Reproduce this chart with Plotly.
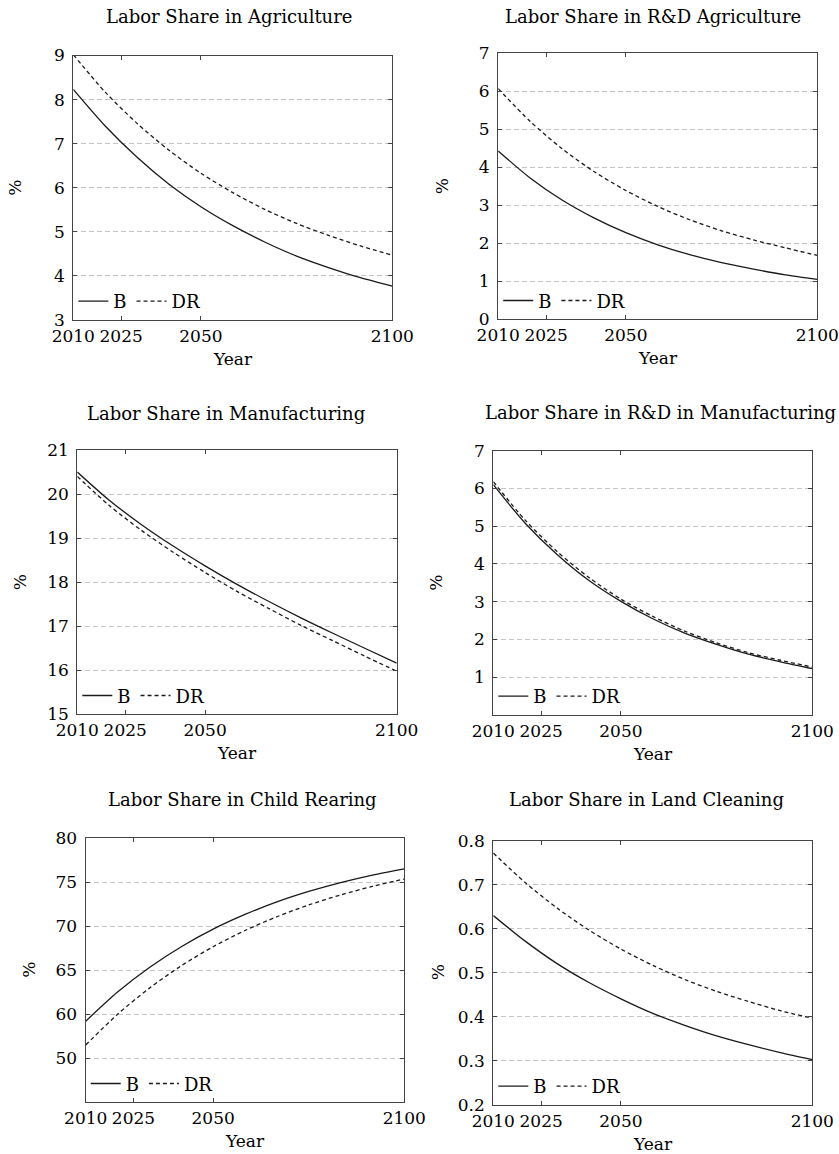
import plotly.graph_objects as go

# ---------------- data ----------------
years = [2010, 2020, 2030, 2040, 2050, 2060, 2070, 2080, 2090, 2100, 2110]
x_tick_vals = [2010, 2025, 2050, 2110]
x_tick_text = ["2010", "2025", "2050", "2100"]
series_names = ["B", "DR"]

titles = [
    "Labor Share in Agriculture",
    "Labor Share in R&D Agriculture",
    "Labor Share in Manufacturing",
    "Labor Share in R&D in Manufacturing",
    "Labor Share in Child Rearing",
    "Labor Share in Land Cleaning",
]

agri_B = [8.23, 7.40, 6.69, 6.08, 5.57, 5.14, 4.77, 4.45, 4.19, 3.96, 3.77]
agri_DR = [9.02, 8.17, 7.46, 6.85, 6.33, 5.89, 5.51, 5.19, 4.92, 4.68, 4.47]

rd_agri_B = [4.43, 3.72, 3.14, 2.67, 2.28, 1.96, 1.70, 1.49, 1.32, 1.17, 1.05]
rd_agri_DR = [6.07, 5.21, 4.49, 3.89, 3.39, 2.97, 2.62, 2.33, 2.09, 1.88, 1.68]

manu_B = [20.50, 19.86, 19.31, 18.82, 18.37, 17.95, 17.56, 17.19, 16.84, 16.50, 16.16]
manu_DR = [20.40, 19.74, 19.18, 18.68, 18.22, 17.79, 17.40, 17.02, 16.67, 16.32, 15.98]

rd_manu_B = [6.10, 5.08, 4.25, 3.56, 3.01, 2.55, 2.17, 1.87, 1.61, 1.41, 1.23]
rd_manu_DR = [6.18, 5.16, 4.33, 3.64, 3.07, 2.61, 2.22, 1.91, 1.65, 1.45, 1.27]

child_B = [59.20, 62.51, 65.30, 67.66, 69.65, 71.32, 72.74, 73.93, 74.94, 75.79, 76.50]
child_DR = [56.50, 59.99, 62.96, 65.50, 67.66, 69.50, 71.06, 72.40, 73.54, 74.51, 75.34]

land_B = [0.630, 0.572, 0.521, 0.478, 0.441, 0.408, 0.381, 0.357, 0.337, 0.319, 0.303]
land_DR = [0.772, 0.705, 0.647, 0.597, 0.554, 0.517, 0.485, 0.458, 0.435, 0.414, 0.397]

y_ranges = [[3, 9], [0, 7], [15, 21], [0, 7], [50, 80], [0.2, 0.8]]
y_tick_vals = [
    [3, 4, 5, 6, 7, 8, 9],
    [0, 1, 2, 3, 4, 5, 6, 7],
    [15, 16, 17, 18, 19, 20, 21],
    [1, 2, 3, 4, 5, 6, 7],
    [55, 60, 65, 70, 75, 80],
    [0.2, 0.3, 0.4, 0.5, 0.6, 0.7, 0.8],
]
y_tick_text = [
    ["3", "4", "5", "6", "7", "8", "9"],
    ["0", "1", "2", "3", "4", "5", "6", "7"],
    ["15", "16", "17", "18", "19", "20", "21"],
    ["1", "2", "3", "4", "5", "6", "7"],
    ["50", "60", "65", "70", "75", "80"],
    ["0.2", "0.3", "0.4", "0.5", "0.6", "0.7", "0.8"],
]
all_series = [
    (agri_B, agri_DR),
    (rd_agri_B, rd_agri_DR),
    (manu_B, manu_DR),
    (rd_manu_B, rd_manu_DR),
    (child_B, child_DR),
    (land_B, land_DR),
]

# ---------------- layout (page pixels) ----------------
W, H = 839, 1154
# plot boxes: (left, right, top, bottom) in page px
boxes = [
    (73.3, 392.3, 55.5, 320.0),
    (498.2, 817.3, 53.3, 319.3),
    (77.3, 396.7, 450.0, 714.3),
    (493.3, 812.3, 450.7, 715.0),
    (85.7, 404.3, 838.0, 1102.3),
    (493.3, 812.3, 840.7, 1105.0),
]
title_pos = [(229, 17), (653, 17), (225.5, 413), (660, 412), (242.5, 799), (646, 799)]
pct_x = [15, 442, 20, 436, 29.5, 437.5]

FONT = "DejaVu Serif"
LINE = "#1a1a1a"
AX = "#444444"
TXT = "#000000"


def px(x):
    return x / W


def py(y):
    return 1 - y / H


fig = go.Figure()
annotations = []
layout_upd = {}

for i in range(6):
    n = i + 1
    xa = "xaxis" if n == 1 else f"xaxis{n}"
    ya = "yaxis" if n == 1 else f"yaxis{n}"
    xr = "x" if n == 1 else f"x{n}"
    yr = "y" if n == 1 else f"y{n}"
    lg = "legend" if n == 1 else f"legend{n}"
    l, r, t, b = boxes[i]
    sB, sDR = all_series[i]

    fig.add_trace(go.Scatter(
        x=years, y=sB, mode="lines", name=series_names[0],
        line=dict(color=LINE, width=1.3, shape="spline", smoothing=0.8),
        xaxis=xr, yaxis=yr, legend=lg, showlegend=True))
    fig.add_trace(go.Scatter(
        x=years, y=sDR, mode="lines", name=series_names[1],
        line=dict(color=LINE, width=1.3, dash="4px,3px", shape="spline", smoothing=0.8),
        xaxis=xr, yaxis=yr, legend=lg, showlegend=True))

    layout_upd[xa] = dict(
        domain=[px(l), px(r)], anchor=yr, range=[2010, 2110],
        tickmode="array", tickvals=x_tick_vals, ticktext=x_tick_text,
        ticks="inside", ticklen=4, tickcolor=AX, tickwidth=1,
        showline=True, linecolor=AX, linewidth=1.2, mirror="ticks",
        showgrid=False, zeroline=False, automargin=False,
        tickfont=dict(family=FONT, size=17, color=TXT),
    )
    layout_upd[ya] = dict(
        domain=[py(b), py(t)], anchor=xr, range=y_ranges[i],
        tickmode="array", tickvals=y_tick_vals[i], ticktext=y_tick_text[i],
        ticks="inside", ticklen=4, tickcolor=AX, tickwidth=1,
        showline=True, linecolor=AX, linewidth=1.2, mirror="ticks",
        showgrid=True, gridcolor="#c4c4c4", gridwidth=1, griddash="5px,3px",
        zeroline=False, ticklabelstandoff=4, automargin=False,
        tickfont=dict(family=FONT, size=17, color=TXT),
    )
    layout_upd[lg] = dict(
        x=px(l), y=py(b - 18.5), xanchor="left", yanchor="middle",
        orientation="h", bgcolor="rgba(0,0,0,0)", borderwidth=0,
        font=dict(family=FONT, size=18, color=TXT), itemwidth=30,
        tracegroupgap=0,
    )

    tx, ty = title_pos[i]
    annotations.append(dict(
        text=titles[i], x=px(tx), y=py(ty), xref="paper", yref="paper",
        xanchor="center", yanchor="middle", showarrow=False,
        font=dict(family=FONT, size=18, color=TXT)))
    annotations.append(dict(
        text="%", x=px(pct_x[i]), y=py((t + b) / 2), xref="paper", yref="paper",
        xanchor="center", yanchor="middle", showarrow=False, textangle=-90,
        font=dict(family=FONT, size=17, color=TXT)))
    annotations.append(dict(
        text="Year", x=px((l + r) / 2), y=py(b + 39), xref="paper", yref="paper",
        xanchor="center", yanchor="middle", showarrow=False,
        font=dict(family=FONT, size=17, color=TXT)))

fig.update_layout(
    width=W, height=H,
    margin=dict(l=0, r=0, t=0, b=0, autoexpand=False),
    paper_bgcolor="white", plot_bgcolor="white",
    annotations=annotations,
    font=dict(family=FONT, color=TXT),
    **layout_upd,
)

fig.write_html(
    "out.html",
    config={"displayModeBar": False},
    post_script="document.body.style.margin='0';document.body.style.overflow='hidden';",
)
